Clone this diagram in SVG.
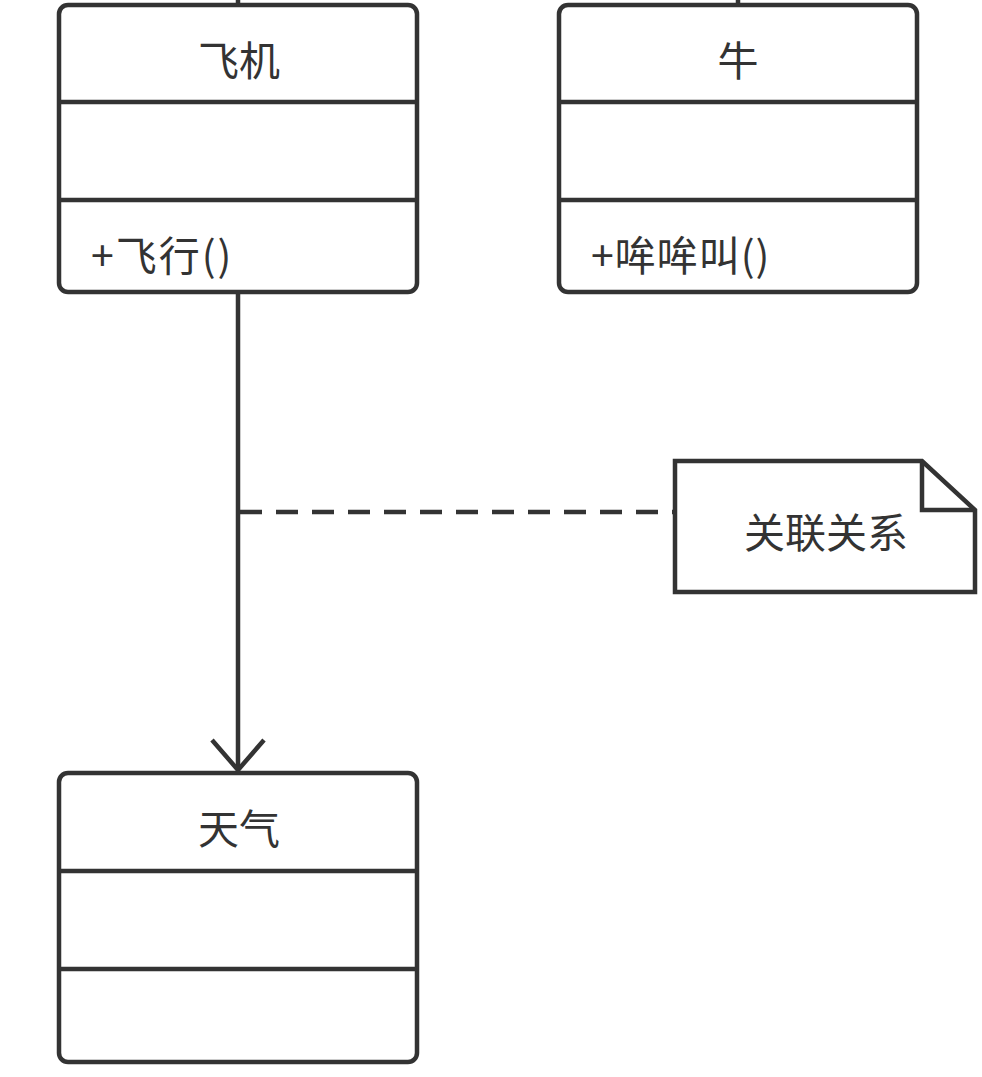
<svg xmlns="http://www.w3.org/2000/svg" width="982" height="1077" viewBox="0 0 982 1077">
<style>
.box{fill:#fff;stroke:#333;stroke-width:4.5}
.div{stroke:#333;stroke-width:4.5}
.t{font-family:"Noto Sans CJK SC","Noto Sans",sans-serif;font-size:41px;fill:#333;dominant-baseline:central}
.c{text-anchor:middle}
.ln{stroke:#333;stroke-width:4.5;fill:none}
</style>
<rect width="982" height="1077" fill="#fff"/>
<g id="connectors">
<line class="ln" x1="238" y1="0" x2="238" y2="6"/>
<line class="ln" x1="738" y1="0" x2="738" y2="6"/>
<line class="ln" x1="238" y1="292" x2="238" y2="770"/>
<polyline class="ln" points="212,740 238,770 264,740"/>
<line class="ln" x1="240" y1="512" x2="675" y2="512" stroke-dasharray="22,14"/>
</g>
<g id="plane">
<rect class="box" x="59" y="5" width="358" height="287" rx="9"/>
<line class="div" x1="59" y1="102" x2="417" y2="102"/>
<line class="div" x1="59" y1="200" x2="417" y2="200"/>
<text class="t c" x="239" y="58">飞机</text>
<text class="t" x="91" y="253" letter-spacing="2">+飞行()</text>
</g>
<g id="cow">
<rect class="box" x="559" y="5" width="358" height="287" rx="9"/>
<line class="div" x1="559" y1="102" x2="917" y2="102"/>
<line class="div" x1="559" y1="200" x2="917" y2="200"/>
<text class="t c" x="738" y="58">牛</text>
<text class="t" x="591" y="253" letter-spacing="1">+哞哞叫()</text>
</g>
<g id="weather">
<rect class="box" x="59" y="773" width="358" height="289" rx="9"/>
<line class="div" x1="59" y1="871" x2="417" y2="871"/>
<line class="div" x1="59" y1="969" x2="417" y2="969"/>
<text class="t c" x="239" y="826">天气</text>
</g>
<g id="note">
<path class="box" d="M675,461 H922 L975,510 V592 H675 Z" stroke-width="5"/>
<path class="ln" d="M922,461 V510 H975" stroke-width="5"/>
<text class="t c" x="826" y="530" font-size="43">关联关系</text>
</g>
</svg>
